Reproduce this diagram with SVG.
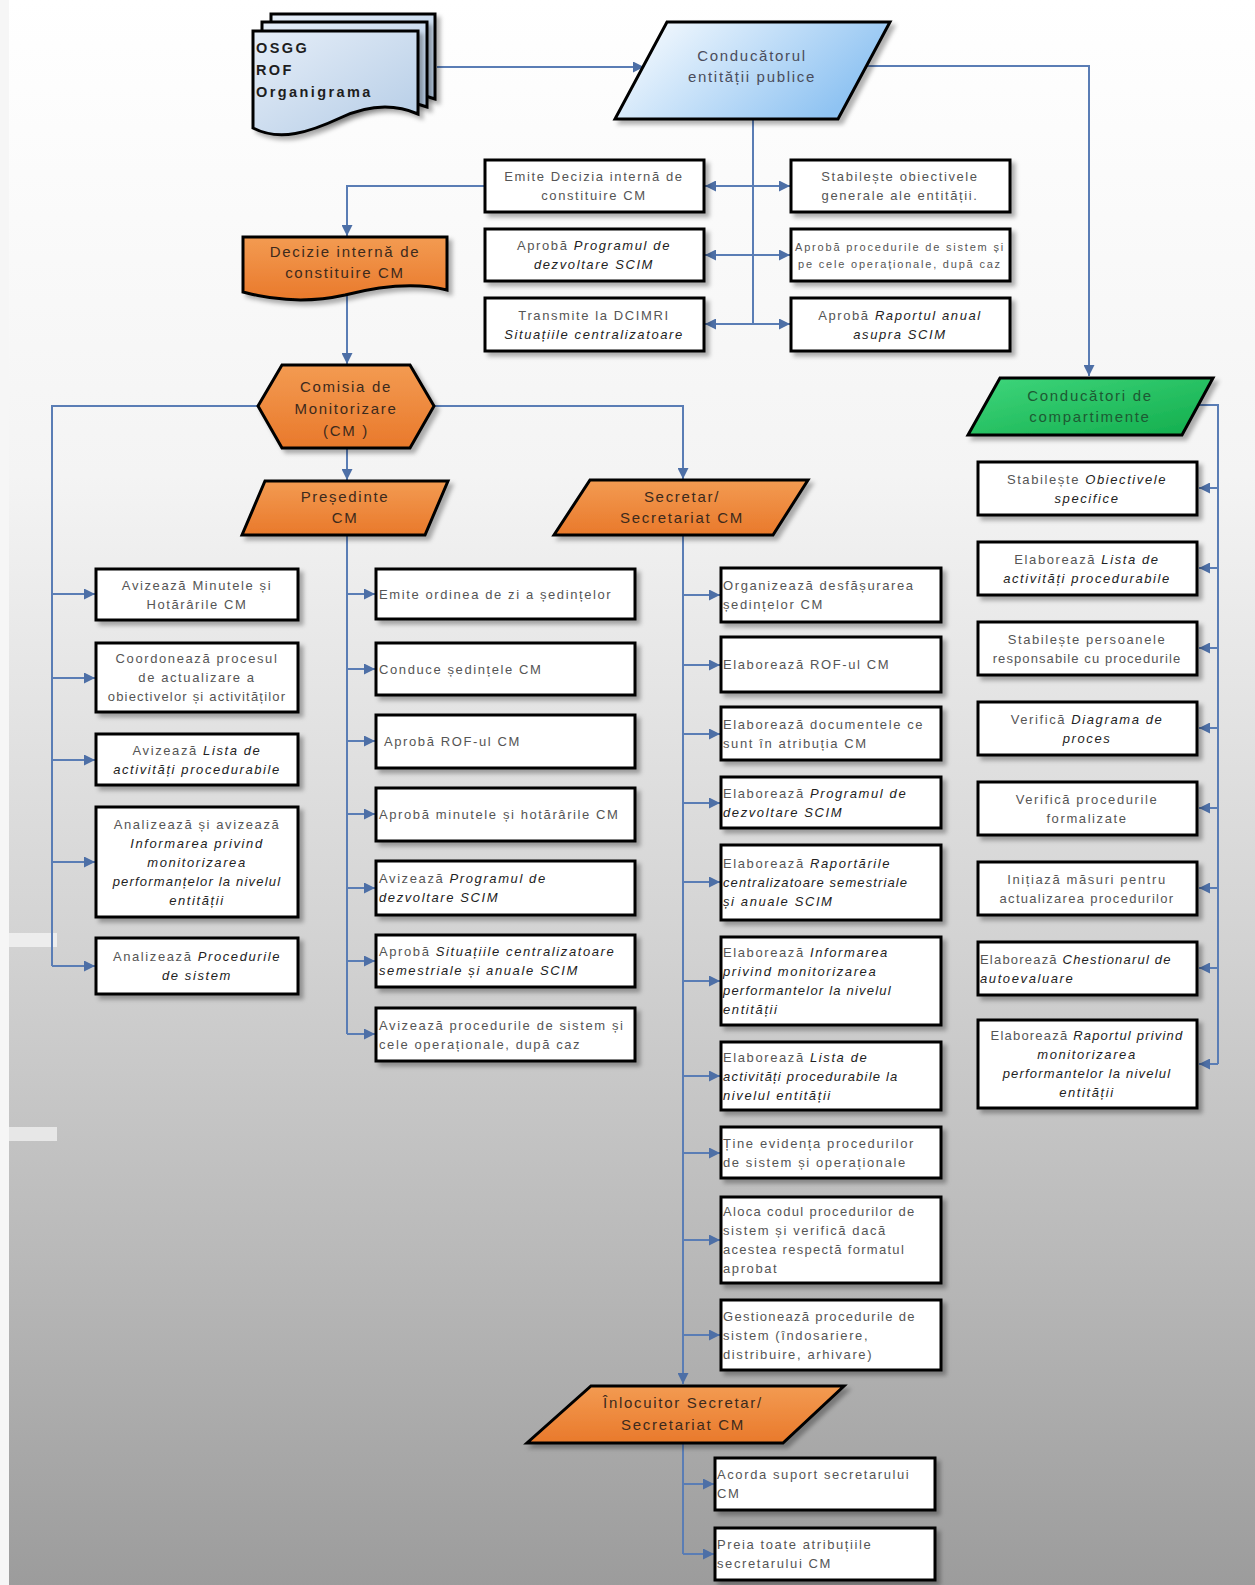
<svg xmlns="http://www.w3.org/2000/svg" width="1255" height="1585" viewBox="0 0 1255 1585">
<defs>
<linearGradient id="bg" x1="0" y1="0" x2="0" y2="1">
<stop offset="0" stop-color="#ffffff"/>
<stop offset="0.3" stop-color="#f4f4f4"/>
<stop offset="0.6" stop-color="#d2d2d2"/>
<stop offset="0.8" stop-color="#b8b8b8"/>
<stop offset="1" stop-color="#9c9c9c"/>
</linearGradient>
<linearGradient id="blue" x1="0" y1="0" x2="1" y2="0.4">
<stop offset="0" stop-color="#ffffff"/>
<stop offset="1" stop-color="#8fc3f2"/>
</linearGradient>
<linearGradient id="docg" x1="0" y1="0" x2="1" y2="1">
<stop offset="0" stop-color="#e6eef8"/>
<stop offset="1" stop-color="#b4cce6"/>
</linearGradient>
<linearGradient id="orange" x1="0" y1="0" x2="0" y2="1">
<stop offset="0" stop-color="#f39b52"/>
<stop offset="1" stop-color="#e9792b"/>
</linearGradient>
<linearGradient id="green" x1="0" y1="0" x2="1" y2="1">
<stop offset="0" stop-color="#3fd67c"/>
<stop offset="1" stop-color="#12ad4c"/>
</linearGradient>
<filter id="sh" x="-10%" y="-10%" width="130%" height="140%">
<feDropShadow dx="4" dy="4" stdDeviation="2" flood-color="#000" flood-opacity="0.3"/>
</filter>
<marker id="ah" viewBox="0 0 10 10" refX="10" refY="5" markerWidth="11" markerHeight="11" markerUnits="userSpaceOnUse" orient="auto">
<path d="M0,0 L10,5 L0,10 z" fill="#4d6fa6"/>
</marker>
<style>
.box{fill:#fff;stroke:#000;stroke-width:3;filter:url(#sh)}
.shape{stroke:#000;stroke-width:3;filter:url(#sh)}
.t{font-family:"Liberation Sans",Arial,sans-serif;font-size:13px;fill:#555;letter-spacing:1.6px}
.c{text-anchor:middle}
.i{font-style:italic;fill:#222}
.s{font-size:11px;letter-spacing:1.8px}
.h{font-family:"Liberation Sans",Arial,sans-serif;font-size:15px;letter-spacing:1.7px;text-anchor:middle}
.ho{fill:#3d2a1c}
.ln{stroke:#5a7db5;stroke-width:2;fill:none}
.a{marker-end:url(#ah)}
</style>
</defs>
<rect x="0" y="0" width="1255" height="1585" fill="url(#bg)"/>
<rect x="0" y="0" width="9" height="1585" fill="#f6f6f6"/>
<rect x="9" y="933" width="48" height="14" fill="#ffffff" opacity="0.6"/>
<rect x="9" y="1127" width="48" height="14" fill="#ffffff" opacity="0.6"/>

<g id="connectors">
<path class="ln a" d="M437,67 H644"/>
<path class="ln a" d="M865,66 H1089 V376"/>
<path class="ln" d="M753,119 V324"/>
<path class="ln a" d="M753,186 H705"/>
<path class="ln a" d="M753,186 H790"/>
<path class="ln a" d="M753,255 H705"/>
<path class="ln a" d="M753,255 H790"/>
<path class="ln a" d="M753,324 H705"/>
<path class="ln a" d="M753,324 H790"/>
<path class="ln a" d="M485,186 H347 V236"/>
<path class="ln a" d="M347,293 V364"/>
<path class="ln a" d="M347,449 V480"/>
<path class="ln" d="M258,406 H52 V966"/>
<path class="ln a" d="M52,594 H95"/>
<path class="ln a" d="M52,678 H95"/>
<path class="ln a" d="M52,760 H95"/>
<path class="ln a" d="M52,862 H95"/>
<path class="ln a" d="M52,966 H95"/>
<path class="ln a" d="M434,406 H683 V479"/>
<path class="ln" d="M347,535 V1034"/>
<path class="ln a" d="M347,594 H375"/>
<path class="ln a" d="M347,669 H375"/>
<path class="ln a" d="M347,741 H375"/>
<path class="ln a" d="M347,814 H375"/>
<path class="ln a" d="M347,888 H375"/>
<path class="ln a" d="M347,961 H375"/>
<path class="ln a" d="M347,1034 H375"/>
<path class="ln a" d="M683,535 V1384"/>
<path class="ln a" d="M683,595 H720"/>
<path class="ln a" d="M683,665 H720"/>
<path class="ln a" d="M683,734 H720"/>
<path class="ln a" d="M683,803 H720"/>
<path class="ln a" d="M683,882 H720"/>
<path class="ln a" d="M683,981 H720"/>
<path class="ln a" d="M683,1076 H720"/>
<path class="ln a" d="M683,1153 H720"/>
<path class="ln a" d="M683,1240 H720"/>
<path class="ln a" d="M683,1335 H720"/>
<path class="ln" d="M683,1442 V1554"/>
<path class="ln a" d="M683,1484 H714"/>
<path class="ln a" d="M683,1554 H714"/>
<path class="ln" d="M1196,405 H1218 V1064"/>
<path class="ln a" d="M1218,488 H1199"/>
<path class="ln a" d="M1218,568 H1199"/>
<path class="ln a" d="M1218,648 H1199"/>
<path class="ln a" d="M1218,728 H1199"/>
<path class="ln a" d="M1218,808 H1199"/>
<path class="ln a" d="M1218,888 H1199"/>
<path class="ln a" d="M1218,968 H1199"/>
<path class="ln a" d="M1218,1064 H1199"/>
</g>

<g id="n-docs">
<path class="shape" fill="url(#docg)" d="M271,14 H435 V99 C412,91 387,91 357,103 C327,115 297,123 271,109 Z"/>
<path class="shape" fill="url(#docg)" d="M262,22 H427 V107 C404,99 379,99 349,111 C319,123 289,131 262,117 Z"/>
<path class="shape" fill="url(#docg)" d="M253,31 H418 V114 C395,104 370,104 340,118 C310,132 280,142 253,128 Z"/>
<text font-family="Liberation Sans,Arial,sans-serif" font-size="14.5" font-weight="bold" fill="#1e1e1e" letter-spacing="2.4"><tspan x="256" y="53">OSGG</tspan><tspan x="256" y="75">ROF</tspan><tspan x="256" y="97">Organigrama</tspan></text>
</g>

<g id="n-conducator">
<path class="shape" fill="url(#blue)" d="M667,22 H890 L838,119 H615 Z"/>
<text class="h" fill="#4a4d5c"><tspan x="752" y="61">Conducătorul</tspan><tspan x="752" y="82">entității publice</tspan></text>
</g>

<g id="n-emite">
<rect class="box" x="485" y="160" width="219" height="52"/>
<text class="t c"><tspan x="594" y="181">Emite Decizia internă de</tspan><tspan x="594" y="200">constituire CM</tspan></text>
</g>
<g id="n-aproba-prog">
<rect class="box" x="485" y="229" width="219" height="52"/>
<text class="t c"><tspan x="594" y="250">Aprobă <tspan class="i">Programul de</tspan></tspan><tspan x="594" y="269" class="i">dezvoltare SCIM</tspan></text>
</g>
<g id="n-transmite">
<rect class="box" x="485" y="298" width="219" height="53"/>
<text class="t c"><tspan x="594" y="320">Transmite la DCIMRI</tspan><tspan x="594" y="339" class="i">Situațiile centralizatoare</tspan></text>
</g>
<g id="n-stabileste-ob">
<rect class="box" x="791" y="160" width="219" height="52"/>
<text class="t c"><tspan x="900" y="181">Stabilește obiectivele</tspan><tspan x="900" y="200">generale ale entității.</tspan></text>
</g>
<g id="n-aproba-proc">
<rect class="box" x="791" y="229" width="219" height="52"/>
<text class="t c s"><tspan x="900" y="251">Aprobă procedurile de sistem și</tspan><tspan x="900" y="268">pe cele operaționale, după caz</tspan></text>
</g>
<g id="n-aproba-raport">
<rect class="box" x="791" y="298" width="219" height="53"/>
<text class="t c"><tspan x="900" y="320">Aprobă <tspan class="i">Raportul anual</tspan></tspan><tspan x="900" y="339" class="i">asupra SCIM</tspan></text>
</g>

<g id="n-decizie">
<path class="shape" fill="url(#orange)" d="M243,237 H447 V290 C415,282 380,286 345,295 C300,305 265,298 243,292 Z"/>
<text class="h ho"><tspan x="345" y="257">Decizie internă de</tspan><tspan x="345" y="278">constituire CM</tspan></text>
</g>

<g id="n-comisia">
<path class="shape" fill="url(#orange)" d="M258,406 L282,365 H410 L434,406 L410,448 H282 Z"/>
<text class="h ho"><tspan x="346" y="392">Comisia de</tspan><tspan x="346" y="414">Monitorizare</tspan><tspan x="346" y="436">(CM )</tspan></text>
</g>

<g id="n-presedinte">
<path class="shape" fill="url(#orange)" d="M265,481 H448 L425,535 H242 Z"/>
<text class="h ho"><tspan x="345" y="502">Președinte</tspan><tspan x="345" y="523">CM</tspan></text>
</g>

<g id="n-secretar">
<path class="shape" fill="url(#orange)" d="M590,480 H808 L773,535 H554 Z"/>
<text class="h ho"><tspan x="682" y="502">Secretar/</tspan><tspan x="682" y="523">Secretariat CM</tspan></text>
</g>

<g id="n-conducatori-comp">
<path class="shape" fill="url(#green)" d="M1000,378 H1213 L1182,435 H968 Z"/>
<text class="h" fill="#1d5a33"><tspan x="1090" y="401">Conducători de</tspan><tspan x="1090" y="422">compartimente</tspan></text>
</g>

<!-- left column (Comisia) -->
<g id="n-l1">
<rect class="box" x="96" y="569" width="202" height="51"/>
<text class="t c"><tspan x="197" y="590">Avizează Minutele și</tspan><tspan x="197" y="609">Hotărârile CM</tspan></text>
</g>
<g id="n-l2">
<rect class="box" x="96" y="643" width="202" height="69"/>
<text class="t c"><tspan x="197" y="663">Coordonează procesul</tspan><tspan x="197" y="682">de actualizare a</tspan><tspan x="197" y="701" letter-spacing="1.2">obiectivelor și activităților</tspan></text>
</g>
<g id="n-l3">
<rect class="box" x="96" y="734" width="202" height="51"/>
<text class="t c"><tspan x="197" y="755">Avizează <tspan class="i">Lista de</tspan></tspan><tspan x="197" y="774" class="i">activități procedurabile</tspan></text>
</g>
<g id="n-l4">
<rect class="box" x="96" y="807" width="202" height="110"/>
<text class="t c"><tspan x="197" y="829">Analizează și avizează</tspan><tspan x="197" y="848" class="i">Informarea privind</tspan><tspan x="197" y="867" class="i">monitorizarea</tspan><tspan x="197" y="886" class="i" letter-spacing="1.2">performanțelor la nivelul</tspan><tspan x="197" y="905" class="i">entității</tspan></text>
</g>
<g id="n-l5">
<rect class="box" x="96" y="938" width="202" height="56"/>
<text class="t c"><tspan x="197" y="961">Analizează <tspan class="i">Procedurile</tspan></tspan><tspan x="197" y="980" class="i">de sistem</tspan></text>
</g>

<!-- middle column (Presedinte) -->
<g id="n-m1">
<rect class="box" x="376" y="569" width="259" height="50"/>
<text class="t"><tspan x="379" y="599">Emite ordinea de zi a ședințelor</tspan></text>
</g>
<g id="n-m2">
<rect class="box" x="376" y="643" width="259" height="52"/>
<text class="t"><tspan x="379" y="674">Conduce ședințele CM</tspan></text>
</g>
<g id="n-m3">
<rect class="box" x="376" y="715" width="259" height="53"/>
<text class="t"><tspan x="384" y="746">Aprobă ROF-ul CM</tspan></text>
</g>
<g id="n-m4">
<rect class="box" x="376" y="788" width="259" height="53"/>
<text class="t"><tspan x="379" y="819">Aprobă minutele și hotărârile CM</tspan></text>
</g>
<g id="n-m5">
<rect class="box" x="376" y="861" width="259" height="54"/>
<text class="t"><tspan x="379" y="883">Avizează <tspan class="i">Programul de</tspan></tspan><tspan x="379" y="902" class="i">dezvoltare SCIM</tspan></text>
</g>
<g id="n-m6">
<rect class="box" x="376" y="935" width="259" height="52"/>
<text class="t"><tspan x="379" y="956">Aprobă <tspan class="i">Situațiile centralizatoare</tspan></tspan><tspan x="379" y="975" class="i">semestriale și anuale SCIM</tspan></text>
</g>
<g id="n-m7">
<rect class="box" x="376" y="1008" width="259" height="53"/>
<text class="t"><tspan x="379" y="1030">Avizează procedurile de sistem și</tspan><tspan x="379" y="1049">cele operaționale, după caz</tspan></text>
</g>

<!-- secretar column -->
<g id="n-s1">
<rect class="box" x="721" y="568" width="220" height="54"/>
<text class="t"><tspan x="723" y="590">Organizează desfășurarea</tspan><tspan x="723" y="609">ședințelor CM</tspan></text>
</g>
<g id="n-s2">
<rect class="box" x="721" y="637" width="220" height="55"/>
<text class="t"><tspan x="723" y="669">Elaborează ROF-ul CM</tspan></text>
</g>
<g id="n-s3">
<rect class="box" x="721" y="707" width="220" height="53"/>
<text class="t"><tspan x="723" y="729">Elaborează documentele ce</tspan><tspan x="723" y="748">sunt în atribuția CM</tspan></text>
</g>
<g id="n-s4">
<rect class="box" x="721" y="777" width="220" height="51"/>
<text class="t"><tspan x="723" y="798">Elaborează <tspan class="i">Programul de</tspan></tspan><tspan x="723" y="817" class="i">dezvoltare SCIM</tspan></text>
</g>
<g id="n-s5">
<rect class="box" x="721" y="845" width="220" height="75"/>
<text class="t"><tspan x="723" y="868">Elaborează <tspan class="i">Raportările</tspan></tspan><tspan x="723" y="887" class="i" letter-spacing="1.1">centralizatoare semestriale</tspan><tspan x="723" y="906" class="i">și anuale SCIM</tspan></text>
</g>
<g id="n-s6">
<rect class="box" x="721" y="937" width="220" height="88"/>
<text class="t"><tspan x="723" y="957">Elaborează <tspan class="i">Informarea</tspan></tspan><tspan x="723" y="976" class="i">privind monitorizarea</tspan><tspan x="723" y="995" class="i" letter-spacing="1.2">performantelor la nivelul</tspan><tspan x="723" y="1014" class="i">entității</tspan></text>
</g>
<g id="n-s7">
<rect class="box" x="721" y="1042" width="220" height="68"/>
<text class="t"><tspan x="723" y="1062">Elaborează <tspan class="i">Lista de</tspan></tspan><tspan x="723" y="1081" class="i" letter-spacing="1.2">activități procedurabile la</tspan><tspan x="723" y="1100" class="i">nivelul entității</tspan></text>
</g>
<g id="n-s8">
<rect class="box" x="721" y="1127" width="220" height="51"/>
<text class="t"><tspan x="723" y="1148">Ține evidența procedurilor</tspan><tspan x="723" y="1167">de sistem și operaționale</tspan></text>
</g>
<g id="n-s9">
<rect class="box" x="721" y="1197" width="220" height="86"/>
<text class="t"><tspan x="723" y="1216" letter-spacing="1.3">Aloca codul procedurilor de</tspan><tspan x="723" y="1235">sistem și verifică dacă</tspan><tspan x="723" y="1254" letter-spacing="1.3">acestea respectă formatul</tspan><tspan x="723" y="1273">aprobat</tspan></text>
</g>
<g id="n-s10">
<rect class="box" x="721" y="1300" width="220" height="70"/>
<text class="t"><tspan x="723" y="1321" letter-spacing="1.3">Gestionează procedurile de</tspan><tspan x="723" y="1340">sistem (îndosariere,</tspan><tspan x="723" y="1359">distribuire, arhivare)</tspan></text>
</g>

<g id="n-inlocuitor">
<path class="shape" fill="url(#orange)" d="M591,1386 H844 L783,1443 H527 Z"/>
<text class="h ho"><tspan x="683" y="1408">Înlocuitor Secretar/</tspan><tspan x="683" y="1430">Secretariat CM</tspan></text>
</g>
<g id="n-b1">
<rect class="box" x="715" y="1458" width="220" height="52"/>
<text class="t"><tspan x="717" y="1479">Acorda suport secretarului</tspan><tspan x="717" y="1498">CM</tspan></text>
</g>
<g id="n-b2">
<rect class="box" x="715" y="1528" width="220" height="52"/>
<text class="t"><tspan x="717" y="1549">Preia toate atribuțiile</tspan><tspan x="717" y="1568">secretarului CM</tspan></text>
</g>

<!-- right column -->
<g id="n-r1">
<rect class="box" x="978" y="462" width="219" height="53"/>
<text class="t c"><tspan x="1087" y="484">Stabilește <tspan class="i">Obiectivele</tspan></tspan><tspan x="1087" y="503" class="i">specifice</tspan></text>
</g>
<g id="n-r2">
<rect class="box" x="978" y="542" width="219" height="53"/>
<text class="t c"><tspan x="1087" y="564">Elaborează <tspan class="i">Lista de</tspan></tspan><tspan x="1087" y="583" class="i">activități procedurabile</tspan></text>
</g>
<g id="n-r3">
<rect class="box" x="978" y="622" width="219" height="53"/>
<text class="t c"><tspan x="1087" y="644">Stabilește persoanele</tspan><tspan x="1087" y="663" letter-spacing="1.1">responsabile cu procedurile</tspan></text>
</g>
<g id="n-r4">
<rect class="box" x="978" y="702" width="219" height="53"/>
<text class="t c"><tspan x="1087" y="724">Verifică <tspan class="i">Diagrama de</tspan></tspan><tspan x="1087" y="743" class="i">proces</tspan></text>
</g>
<g id="n-r5">
<rect class="box" x="978" y="782" width="219" height="53"/>
<text class="t c"><tspan x="1087" y="804">Verifică procedurile</tspan><tspan x="1087" y="823">formalizate</tspan></text>
</g>
<g id="n-r6">
<rect class="box" x="978" y="862" width="219" height="53"/>
<text class="t c"><tspan x="1087" y="884">Inițiază măsuri pentru</tspan><tspan x="1087" y="903" letter-spacing="1.3">actualizarea procedurilor</tspan></text>
</g>
<g id="n-r7">
<rect class="box" x="978" y="942" width="219" height="53"/>
<text class="t"><tspan x="980" y="964" letter-spacing="1.2">Elaborează <tspan class="i">Chestionarul de</tspan></tspan><tspan x="980" y="983" class="i">autoevaluare</tspan></text>
</g>
<g id="n-r8">
<rect class="box" x="978" y="1020" width="219" height="88"/>
<text class="t c"><tspan x="1087" y="1040" letter-spacing="1.2">Elaborează <tspan class="i">Raportul privind</tspan></tspan><tspan x="1087" y="1059" class="i">monitorizarea</tspan><tspan x="1087" y="1078" class="i" letter-spacing="1.2">performantelor la nivelul</tspan><tspan x="1087" y="1097" class="i">entității</tspan></text>
</g>
</svg>
